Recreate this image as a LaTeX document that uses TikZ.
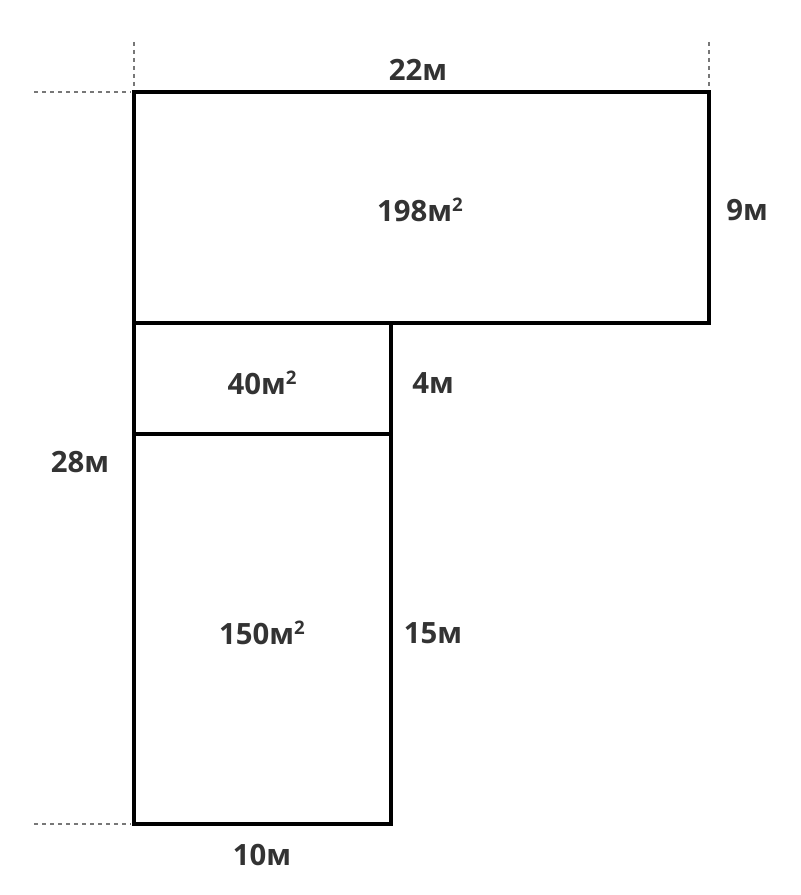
\documentclass[tikz,border=0pt]{standalone}
\usepackage{fontspec}
\setmainfont{Open Sans}
\definecolor{labelgray}{HTML}{333333}
\definecolor{guidegray}{HTML}{777777}
\newcommand{\sqm}{м\raisebox{0.6ex}{\bfseries\fontsize{14}{14}\selectfont 2}}
\begin{document}
\begin{tikzpicture}[
    x=0.75pt, y=-0.75pt,
    wall/.style={draw=black, line width=3.5pt, line join=miter},
    guide/.style={draw=guidegray, line width=0.9pt, dash pattern=on 3pt off 3pt},
    area/.style={text=labelgray, font=\bfseries\fontsize{22}{26}\selectfont, inner sep=0pt},
    side/.style={text=labelgray, font=\bfseries\fontsize{22}{26}\selectfont, inner sep=0pt}
]
\useasboundingbox (0,0) rectangle (800,895);
% corners of the plan
\coordinate (tl) at (134,92);
\coordinate (tr) at (709,323);
\coordinate (ml) at (134,323);
\coordinate (mr) at (391,434);
\coordinate (bl) at (134,434);
\coordinate (br) at (391,824);
% guides
\draw[guide] (134,42) -- (134,89);
\draw[guide] (709,42) -- (709,89);
\draw[guide] (34,92) -- (131,92);
\draw[guide] (34,824) -- (131,824);
% rooms
\draw[wall] (tl) rectangle (tr);
\draw[wall] (ml) rectangle (mr);
\draw[wall] (bl) rectangle (br);
% areas
\node[area] (a198) at (420,210) {198\sqm};
\node[area] (a40) at (262,383) {40\sqm};
\node[area] (a150) at (262,633) {150\sqm};
% sides
\node[side] (s22) at (418,70) {22м};
\node[side] (s9) at (747,210) {9м};
\node[side] (s4) at (433,383) {4м};
\node[side] (s28) at (80,462) {28м};
\node[side] (s15) at (433,633) {15м};
\node[side] (s10) at (262,855) {10м};
\end{tikzpicture}
\end{document}
